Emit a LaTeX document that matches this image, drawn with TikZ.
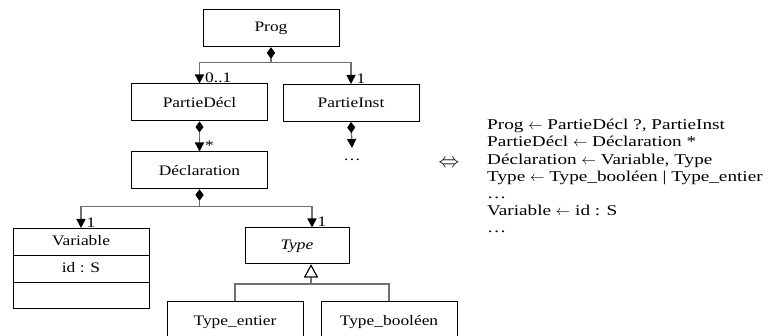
\documentclass[tikz,border=0pt]{standalone}
\usepackage{fontspec}
\setmainfont{Liberation Serif}[FakeStretch=1.2]
\newfontfamily\rulefont{Liberation Serif}[FakeStretch=1.28]
\usetikzlibrary{arrows.meta,shapes.multipart}
\definecolor{umlgray}{RGB}{112,112,112}
\newcommand{\partstrut}{\rule[-3pt]{0pt}{12pt}}

\begin{document}
\begin{tikzpicture}[x=1pt,y=-1pt,
  cls/.style={draw,line width=1pt,minimum width=136pt,minimum height=37pt,inner sep=0pt,font=\fontsize{14.5}{16}\selectfont},
  comp/.style={umlgray,line width=1.4pt,{Diamond[black,length=11pt,width=8pt]}-{Triangle[black,length=9pt,width=9pt]}},
  gen/.style={umlgray,line width=1.4pt,-{Triangle[black,fill=white,line width=1pt,length=13pt,width=14pt]}},
  mult/.style={anchor=south west,inner sep=0pt,xshift=5pt,text=black,font=\fontsize{14.5}{16}\selectfont}]
  \path[use as bounding box,clip] (0,0) rectangle (774,336);

  % class boxes
  \node[cls] (prog) at (271,28.5) {Prog};
  \node[cls] (pdecl) at (199.5,102.5) {PartieDécl};
  \node[cls] (pinst) at (351,103) {PartieInst};
  \node[cls] (decl) at (199.5,170.5) {Déclaration};
  \coordinate (moreend) at (352,148);
  \node[font=\fontsize{14.5}{16}\selectfont] (more) at (352,160) {\dots};
  \node[draw,line width=1pt,rectangle split,rectangle split parts=3,
        minimum width=136pt,inner ysep=6.5pt,anchor=north,
        font=\fontsize{14.5}{16}\selectfont] (var) at (81,228)
        {\partstrut Variable\nodepart{two}\partstrut id : S\nodepart{three}\partstrut};
  \node[cls,minimum width=104pt,minimum height=36pt,font=\fontsize{14.5}{16}\selectfont\itshape] (type) at (297,246) {Type};
  \node[cls,minimum height=42pt,anchor=north] (tent) at (235,301) {Type\_entier};
  \node[cls,minimum height=42pt,anchor=north] (tbool) at (389,301) {Type\_booléen};

  % composition links
  \draw[comp] (prog.south) -- ++(0,15) -| (pdecl.north) node[mult,at end] {0..1};
  \draw[comp] (prog.south) -- ++(0,15) -| (pinst.north) node[mult,at end] {1};
  \draw[comp] (pdecl.south) -- (decl.north) node[mult,at end] {*};
  \draw[comp] (pinst.south) -- (moreend);
  \draw[comp] (decl.south) -- ++(0,17) -| (var.north) node[mult,at end] {1};
  \draw[comp] (decl.south) -- ++(0,17) -| ([xshift=15pt]type.north) node[mult,at end] {1};

  % generalisation
  \coordinate (gj) at (311,284);
  \draw[gen] (tent.north) |- (gj) -- ([xshift=14pt]type.south);
  \draw[gen] (tbool.north) |- (gj) -- ([xshift=14pt]type.south);

  % grammar
  \node[font=\fontsize{20}{20}\selectfont] (equiv) at (449,164) {$\Leftrightarrow$};
  \node[anchor=north west,align=left,inner sep=0pt,font=\fontsize{15}{17.2}\rulefont] (rules) at (487,119)
    {Prog $\leftarrow$ PartieDécl ?, PartieInst\\
     PartieDécl $\leftarrow$ Déclaration *\\
     Déclaration $\leftarrow$ Variable, Type\\
     Type $\leftarrow$ Type\_booléen | Type\_entier\\
     \dots\\
     Variable $\leftarrow$ id : S\\
     \dots};
\end{tikzpicture}
\end{document}
